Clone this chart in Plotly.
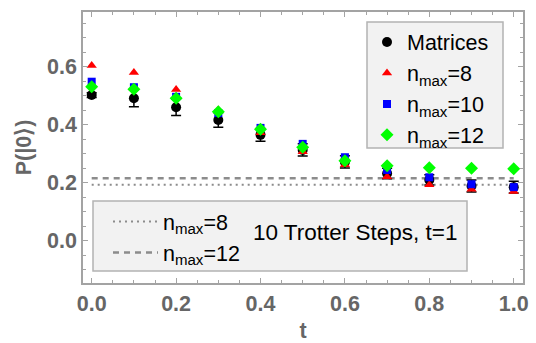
import plotly.graph_objects as go

t = [0.0, 0.1, 0.2, 0.3, 0.4, 0.5, 0.6, 0.7, 0.8, 0.9, 1.0]
matrices = [0.502, 0.491, 0.460, 0.416, 0.365, 0.313, 0.272, 0.232, 0.210, 0.189, 0.185]
matrices_err = [0.008, 0.029, 0.028, 0.025, 0.022, 0.021, 0.021, 0.018, 0.018, 0.021, 0.020]
nmax8 = [0.604, 0.580, 0.521, 0.451, 0.372, 0.307, 0.262, 0.221, 0.193, 0.178, 0.170]
nmax10 = [0.548, 0.529, 0.496, 0.440, 0.389, 0.334, 0.288, 0.244, 0.219, 0.195, 0.185]
nmax12 = [0.531, 0.522, 0.491, 0.445, 0.384, 0.322, 0.276, 0.259, 0.252, 0.250, 0.248]
line_x = [0.0, 1.0]
line_nmax8 = 0.193
line_nmax12 = 0.216

W, H = 536, 343
ML, MR, MT, MB = 83, 13, 12, 60
PW, PH = W - ML - MR, H - MT - MB

def px(x):
    return (x - ML) / PW

def py(y):
    return 1 - (y - MT) / PH

FONT = "Liberation Sans"
GRAY = "#666666"
FRAME = "#a3a3a3"
FS = 21.5

fig = go.Figure()

fig.add_trace(go.Scatter(
    x=line_x, y=[line_nmax8] * 2, mode="lines", name="n<sub>max</sub>=8",
    line=dict(color="#8c8c8c", width=2, dash="2px,4px"), legend="legend2"))
fig.add_trace(go.Scatter(
    x=line_x, y=[line_nmax12] * 2, mode="lines", name="n<sub>max</sub>=12",
    line=dict(color="#8c8c8c", width=2.5, dash="6px,5px"), legend="legend2"))

fig.add_trace(go.Scatter(
    x=t, y=matrices, mode="markers", name="Matrices",
    marker=dict(symbol="circle", size=10, color="black"),
    error_y=dict(type="data", array=matrices_err, color="black", thickness=1.5, width=5)))
fig.add_trace(go.Scatter(
    x=t, y=nmax8, mode="markers", name="n<sub>max</sub>=8",
    marker=dict(symbol="triangle-up", size=9, color="#ff0000")))
fig.add_trace(go.Scatter(
    x=t, y=nmax10, mode="markers", name="n<sub>max</sub>=10",
    marker=dict(symbol="square", size=8, color="#0000ff")))
fig.add_trace(go.Scatter(
    x=t, y=nmax12, mode="markers", name="n<sub>max</sub>=12",
    marker=dict(symbol="diamond", size=10, color="#00ff00")))

axis_common = dict(
    showline=True, linecolor=FRAME, linewidth=1.5, mirror="ticks",
    ticks="inside", ticklen=5, tickwidth=1, tickcolor=FRAME,
    showgrid=False, zeroline=False, automargin=False,
    ticklabeloverflow="allow",
    tickfont=dict(family=FONT, size=FS, color=GRAY, weight="bold"),
    minor=dict(ticks="inside", ticklen=3, tickcolor=FRAME, showgrid=False),
)

box_style = dict(type="rect", xref="paper", yref="paper", fillcolor="#f2f2f2",
                 line=dict(color="#b3b3b3", width=1.5), layer="below")

fig.update_layout(
    width=W, height=H,
    margin=dict(l=ML, r=MR, t=MT, b=MB, autoexpand=False),
    plot_bgcolor="white", paper_bgcolor="white",
    font=dict(family=FONT, size=FS, color="black"),
    xaxis=dict(range=[-0.0206, 1.022], tickvals=[0, 0.2, 0.4, 0.6, 0.8, 1.0], tickformat=".1f",
               minor_dtick=0.05, minor_tick0=0,
               title=dict(text="t", font=dict(family=FONT, size=FS, color=GRAY, weight="bold"), standoff=25),
               **axis_common),
    yaxis=dict(range=[-0.145, 0.788], tickvals=[0.0, 0.2, 0.4, 0.6], tickformat=".1f",
               minor_dtick=0.05, minor_tick0=0,
               title=dict(text="P(|0⟩)", font=dict(family=FONT, size=FS, color=GRAY, weight="bold"), standoff=10),
               **axis_common),
    legend=dict(x=px(367), y=py(21.5), xanchor="left", yanchor="top",
                bgcolor="rgba(0,0,0,0)", borderwidth=0,
                font=dict(family=FONT, size=FS, color="black"), tracegroupgap=0,
                itemsizing="trace"),
    legend2=dict(x=px(108), y=py(201), xanchor="left", yanchor="top",
                 bgcolor="rgba(0,0,0,0)", borderwidth=0,
                 font=dict(family=FONT, size=FS, color="black"), itemwidth=45),
    shapes=[
        dict(x0=px(367), x1=px(503), y0=py(148), y1=py(22), **box_style),
        dict(x0=px(93), x1=px(467), y0=py(271), y1=py(201), **box_style),
    ],
    annotations=[dict(xref="paper", yref="paper", x=px(251), y=py(233), xanchor="left", yanchor="middle",
                      text="10 Trotter Steps, t=1", showarrow=False,
                      font=dict(family=FONT, size=22.5, color="black"))],
)

fig.write_html("out.html", config={"displayModeBar": False},
               post_script="document.body.style.margin='0';document.body.style.overflow='hidden';")
